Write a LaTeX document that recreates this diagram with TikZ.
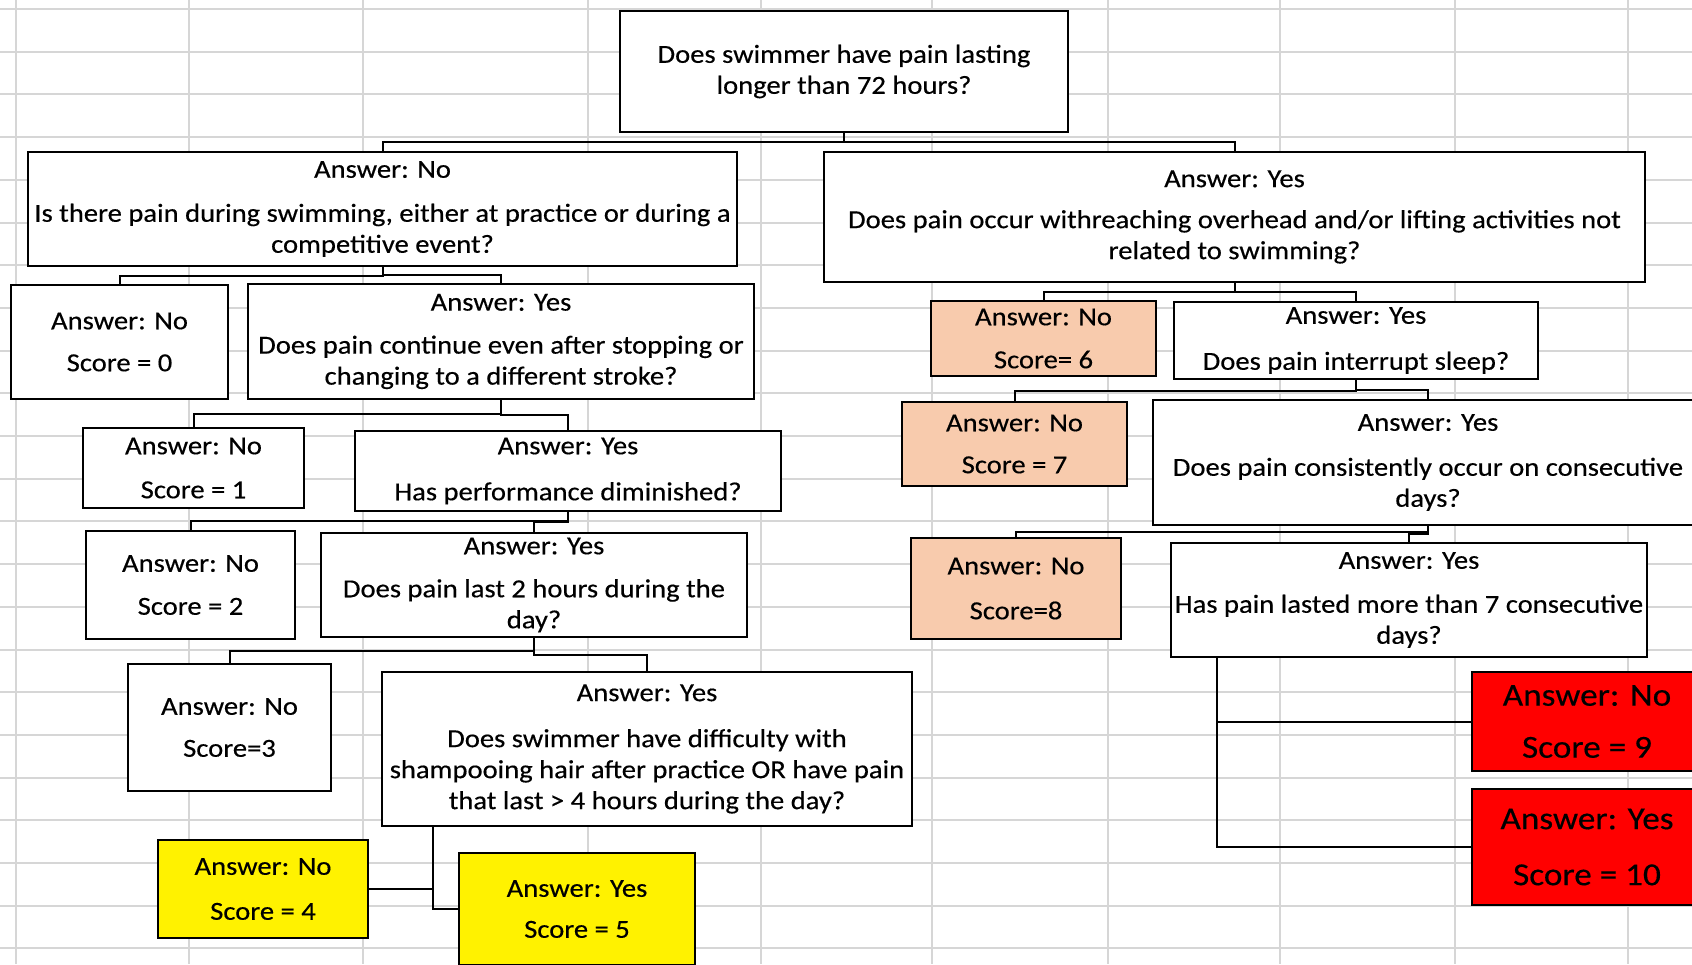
\documentclass[tikz,border=0pt]{standalone}
\usepackage{fontspec}
\setmainfont{Carlito}[FakeStretch=1.1, FakeBold=0.4]
\usepackage{xcolor}
\usetikzlibrary{calc}
\definecolor{salmon}{HTML}{F8CBAD}
\definecolor{gridgray}{HTML}{D6D6D6}

\begin{document}
\begin{tikzpicture}[x=1pt,y=-1pt,
    box/.style={draw=black, line width=2.2pt, fill=white, inner sep=0pt, align=center,
                font=\fontsize{26}{31}\selectfont},
    redbox/.style={box, fill=red, font=\fontsize{32}{38}\selectfont},
    link/.style={draw=black, line width=2pt},
    elbow/.style={to path={(\tikztostart.south) |- ($(\tikztostart.south)!0.5!(\tikztotarget.north)$) -| (\tikztotarget.north)}}]
            \useasboundingbox (0,0) rectangle (1692,964);
            \fill[white] (0,0) rectangle (1692,964);
            % spreadsheet grid
            \foreach \gx in {16,189,363,588,761,932,1108,1280,1455,1628}
                \draw[gridgray, line width=2pt] (\gx,0) -- (\gx,964);
            \foreach \gy in {0,...,22}
                \draw[gridgray, line width=2pt] (0,{9+42.7*\gy}) -- (1692,{9+42.7*\gy});
            % question boxes
            \node[box, minimum width=448pt, minimum height=121pt] (0) at (844,71.5) {Does swimmer have pain lasting\\longer than 72 hours?};
            \node[box, minimum width=709pt, minimum height=114pt] (1) at (382.5,209) {Answer: No\\[13pt]Is there pain during swimming, either at practice or during a\\competitive event?};
            \node[box, minimum width=821pt, minimum height=130pt] (2) at (1234.5,217) {Answer: Yes\\[10pt]Does pain occur withreaching overhead and/or lifting activities not\\related to swimming?};
            \node[box, minimum width=217pt, minimum height=114pt] (3) at (119.5,342) {Answer: No\\[11pt]Score = 0};
            \node[box, minimum width=506pt, minimum height=115pt] (4) at (501,341.5) {Answer: Yes\\[12pt]Does pain continue even after stopping or\\changing to a different stroke?};
            \node[box, minimum width=221pt, minimum height=80pt] (5) at (193.5,468) {Answer: No\\[13pt]Score = 1};
            \node[box, minimum width=426pt, minimum height=80pt] (6) at (568,471) {Answer: Yes\\[15pt]Has performance diminished?};
            \node[box, minimum width=209pt, minimum height=108pt] (7) at (190.5,585) {Answer: No\\[12pt]Score = 2};
            \node[box, minimum width=426pt, minimum height=104pt] (8) at (534,585) {Answer: Yes\\[12pt]Does pain last 2 hours during the\\day?};
            \node[box, minimum width=203pt, minimum height=127pt] (9) at (229.5,727.5) {Answer: No\\[11pt]Score=3};
            \node[box, minimum width=530pt, minimum height=154pt] (10) at (647,749) {Answer: Yes\\[15pt]Does swimmer have difficulty with\\shampooing hair after practice OR have pain\\that last > 4 hours during the day?};
            \node[box, fill=yellow, minimum width=210pt, minimum height=98pt] (11) at (263,889) {Answer: No\\[14pt]Score = 4};
            \node[box, fill=yellow, minimum width=236pt, minimum height=112pt] (12) at (577,909) {Answer: Yes\\[10pt]Score = 5};
            \node[box, fill=salmon, minimum width=225pt, minimum height=75pt] (13) at (1043.5,338.5) {Answer: No\\[12pt]Score= 6};
            \node[box, minimum width=364pt, minimum height=77pt] (14) at (1356,340.5) {Answer: Yes\\[15pt]Does pain interrupt sleep?};
            \node[box, fill=salmon, minimum width=225pt, minimum height=84pt] (15) at (1014.5,444) {Answer: No\\[11pt]Score = 7};
            \node[box, minimum width=550pt, minimum height=125pt] (16) at (1428,462.5) {Answer: Yes\\[14pt]Does pain consistently occur on consecutive\\days?};
            \node[box, fill=salmon, minimum width=210pt, minimum height=101pt] (17) at (1016,588.5) {Answer: No\\[14pt]Score=8};
            \node[box, minimum width=476pt, minimum height=114pt] (18) at (1409,600) {Answer: Yes\\[13pt]Has pain lasted more than 7 consecutive\\days?};
            \node[redbox, minimum width=230pt, minimum height=99pt] (19) at (1587,721.5) {Answer: No\\[14pt]Score = 9};
            \node[redbox, minimum width=230pt, minimum height=116pt] (20) at (1587,847) {Answer: Yes\\[18pt]Score = 10};
            % connectors
            \draw[link, elbow] (0) to (1);
            \draw[link, elbow] (0) to (2);
            \draw[link, elbow] (1) to (3);
            \draw[link, elbow] (1) to (4);
            \draw[link, elbow] (4) to (5);
            \draw[link, elbow] (4) to (6);
            \draw[link, elbow] (6) to (7);
            \draw[link, elbow] (6) to (8);
            \draw[link, elbow] (8) to (9);
            \draw[link, elbow] (8) to (10);
            \draw[link, elbow] (2) to (13);
            \draw[link, elbow] (2) to (14);
            \draw[link, elbow] (14) to (15);
            \draw[link, elbow] (14) to (16);
            \draw[link, elbow] (16) to (17);
            \draw[link, elbow] (16) to (18);
            \coordinate (c10) at ($(10.south west)+(52,0)$);
            \draw[link] (c10) |- (11);
            \draw[link] (c10) |- (12);
            \coordinate (c18) at ($(18.south west)+(47,0)$);
            \draw[link] (c18) |- (19);
            \draw[link] (c18) |- (20);
        \end{tikzpicture}
\end{document}
